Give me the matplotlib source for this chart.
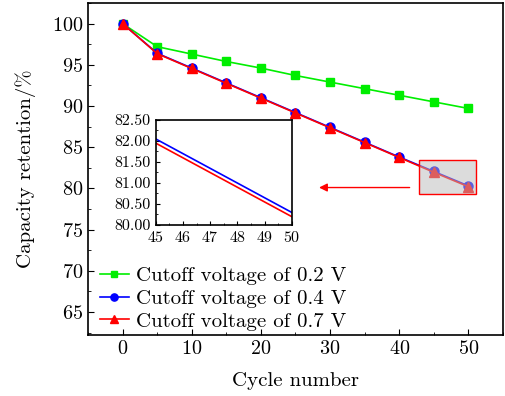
import matplotlib
matplotlib.use("Agg")
import matplotlib.pyplot as plt
from matplotlib.patches import Rectangle
from matplotlib.ticker import MultipleLocator, FormatStrFormatter

plt.rcParams['font.family'] = 'cmr10'
plt.rcParams['mathtext.fontset'] = 'cm'
plt.rcParams['axes.unicode_minus'] = False
plt.rcParams['axes.formatter.use_mathtext'] = True

cycles = [0, 5, 10, 15, 20, 25, 30, 35, 40, 45, 50]
v02 = [100, 97.2, 96.3, 95.4, 94.6, 93.7, 92.9, 92.1, 91.3, 90.5, 89.7]
v04 = [100, 96.4, 94.6, 92.8, 91.0, 89.2, 87.4, 85.6, 83.8, 82.05, 80.3]
v07 = [100, 96.35, 94.55, 92.75, 90.95, 89.15, 87.35, 85.55, 83.75, 81.95, 80.2]
labels = ["Cutoff voltage of 0.2 V", "Cutoff voltage of 0.4 V", "Cutoff voltage of 0.7 V"]

fig = plt.figure(figsize=(5.06, 3.96), dpi=100)
ax = fig.add_axes([88/506, 1-335/396, 415/506, 332/396])

ax.plot(cycles, v02, '-s', color='#00ee00', lw=1.2, ms=6, label=labels[0])
ax.plot(cycles, v04, '-o', color='#0000ff', lw=1.2, ms=6.5, label=labels[1])
ax.plot(cycles, v07, '-^', color='#ff0000', lw=1.2, ms=7, label=labels[2])

ax.set_xlim(-5, 55)
ax.set_ylim(62.2, 102.5)
ax.xaxis.set_major_locator(MultipleLocator(10))
ax.xaxis.set_minor_locator(MultipleLocator(5))
ax.yaxis.set_major_locator(MultipleLocator(5))
ax.yaxis.set_minor_locator(MultipleLocator(2.5))
ax.tick_params(which='both', direction='in', labelsize=14.5)
ax.tick_params(which='major', length=4)
ax.tick_params(which='minor', length=2)
ax.set_xlabel("Cycle number", fontsize=15, labelpad=10)
ax.set_ylabel("Capacity retention/%", fontsize=15, labelpad=11)
for s in ax.spines.values():
    s.set_linewidth(1.2)

ax.add_patch(Rectangle((42.9, 79.3), 8.2, 4.15, facecolor='#bbbbbb', alpha=0.5,
                       edgecolor='none', zorder=5))
ax.add_patch(Rectangle((42.9, 79.3), 8.2, 4.15, facecolor='none',
                       edgecolor='#ff0000', lw=1.0, zorder=6))
ax.annotate("", xy=(28.0, 80.1), xytext=(41.9, 80.1),
            arrowprops=dict(arrowstyle='-|>', color='#ff0000', lw=1.0,
                            mutation_scale=12))

ax.legend(loc='lower left', frameon=False, fontsize=15, handlelength=1.4,
          handletextpad=0.35, labelspacing=0.2, borderaxespad=0.0,
          markerscale=0.8, bbox_to_anchor=(0.008, -0.012))

ins = fig.add_axes([155.7/506, 1-225/396, 136/506, 105/396])
ins.plot(cycles, v04, '-', color='#0000ff', lw=1.2)
ins.plot(cycles, v07, '-', color='#ff0000', lw=1.2)
ins.set_xlim(45, 50)
ins.set_ylim(80, 82.5)
ins.xaxis.set_major_locator(MultipleLocator(1))
ins.xaxis.set_minor_locator(MultipleLocator(0.5))
ins.yaxis.set_major_locator(MultipleLocator(0.5))
ins.yaxis.set_minor_locator(MultipleLocator(0.25))
ins.yaxis.set_major_formatter(FormatStrFormatter('%.2f'))
ins.tick_params(which='both', direction='in', labelsize=11.5)
ins.tick_params(which='major', length=3)
ins.tick_params(which='minor', length=1.5)
for s in ins.spines.values():
    s.set_linewidth(1.2)

fig.savefig("out.png", dpi=100)
